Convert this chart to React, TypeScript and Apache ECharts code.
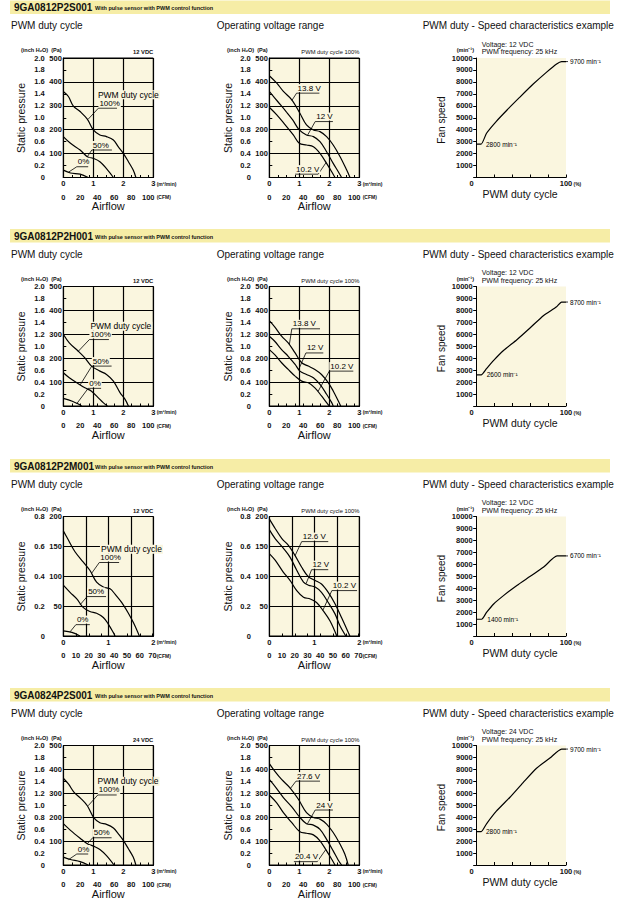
import React, { useEffect, useRef } from "react";
import * as echarts from "echarts";

// ---------- text ----------
const models = ["9GA0812P2S001", "9GA0812P2H001", "9GA0812P2M001", "9GA0824P2S001"];
const subtitle = "With pulse sensor with PWM control function";
const panelTitles = ["PWM duty cycle", "Operating voltage range", "PWM duty - Speed characteristics example"];
const ratedVoltages = ["12 VDC", "12 VDC", "12 VDC", "24 VDC"];
const dutyNames = ["100%", "50%", "0%"];
const voltageNames = [
  ["13.8 V", "12 V", "10.2 V"],
  ["13.8 V", "12 V", "10.2 V"],
  ["12.6 V", "12 V", "10.2 V"],
  ["27.6 V", "24 V", "20.4 V"],
];

// ---------- axis ranges ----------
const airflowMax = [3, 3, 2, 3]; // m³/min
const airflowStep = [1, 1, 0.5, 1];
const pressureMax = [500, 500, 200, 500]; // Pa
const pressureStep = [100, 100, 50, 100];
const inchMax = [2.0, 2.0, 0.8, 2.0]; // inch H2O
const cfmLabelStep = [20, 20, 10, 20];
const CFM_PER_M3 = 35.3147;
const speedMin = [2800, 2600, 1400, 2800];
const speedMax = [9700, 8700, 6700, 9700];

// ---------- curves: [airflow m³/min, static pressure Pa] ----------
const s001Duty100 = [[0, 360], [0.17, 339], [0.33, 300], [0.56, 276], [0.8, 244], [1.0, 199], [1.22, 178], [1.44, 171], [1.67, 157], [1.83, 129], [2.0, 101], [2.17, 66], [2.33, 31], [2.42, 0]];
const s001Duty50 = [[0, 171], [0.24, 143], [0.56, 115], [0.8, 87], [1.0, 80], [1.22, 66], [1.44, 37], [1.67, 0]];
const s001Duty0 = [[0, 31], [0.24, 19], [0.56, 14], [0.83, 0]];
const s001Volt138 = [[0, 426], [0.25, 395], [0.47, 360], [0.75, 325], [1.02, 269], [1.24, 220], [1.47, 199], [1.69, 192], [1.91, 171], [2.13, 136], [2.36, 87], [2.58, 31], [2.69, 0]];
const s001Volt12 = [[0, 360], [0.28, 318], [0.56, 276], [0.78, 241], [1.0, 199], [1.24, 178], [1.47, 171], [1.69, 150], [1.91, 108], [2.13, 59], [2.3, 24], [2.41, 0]];
const s001Volt102 = [[0, 294], [0.25, 262], [0.53, 220], [0.8, 178], [1.0, 143], [1.24, 136], [1.47, 129], [1.69, 101], [1.91, 59], [2.08, 24], [2.19, 0]];

const h001Duty100 = [[0, 300], [0.2, 264], [0.5, 229], [0.72, 201], [0.94, 167], [1.22, 146], [1.44, 132], [1.67, 104], [1.89, 56], [2.06, 28], [2.17, 0]];
const h001Duty50 = [[0, 139], [0.2, 118], [0.5, 93], [0.72, 76], [0.94, 62], [1.16, 35], [1.33, 14], [1.47, 0]];
const h001Duty0 = [[0, 32], [0.3, 20], [0.5, 8], [0.61, 0]];
const h001Volt138 = [[0, 357], [0.18, 331], [0.41, 292], [0.63, 264], [0.86, 222], [1.08, 181], [1.3, 167], [1.52, 153], [1.74, 132], [1.97, 97], [2.13, 63], [2.3, 21], [2.38, 0]];
const h001Volt12 = [[0, 292], [0.18, 271], [0.41, 236], [0.63, 208], [0.86, 174], [1.02, 146], [1.24, 132], [1.47, 118], [1.69, 90], [1.91, 49], [2.08, 14], [2.13, 0]];
const h001Volt102 = [[0, 236], [0.18, 215], [0.41, 181], [0.63, 153], [0.86, 125], [1.08, 104], [1.3, 97], [1.52, 76], [1.74, 42], [1.91, 14], [2.0, 0]];

const m001Duty100 = [[0, 176], [0.11, 161], [0.26, 141], [0.44, 124], [0.59, 110], [0.74, 90], [0.89, 82], [1.04, 79], [1.15, 70], [1.3, 56], [1.44, 39], [1.56, 22], [1.69, 0]];
const m001Duty50 = [[0, 85], [0.15, 73], [0.3, 62], [0.44, 48], [0.59, 41], [0.74, 38], [0.89, 31], [1.0, 20], [1.11, 6], [1.15, 0]];
const m001Duty0 = [[0, 8.5], [0.19, 6], [0.37, 0]];
const m001Volt126 = [[0, 196], [0.13, 180], [0.28, 163], [0.42, 152], [0.57, 135], [0.72, 115], [0.87, 99], [1.02, 93], [1.16, 87], [1.31, 73], [1.46, 54], [1.61, 30], [1.79, 0]];
const m001Volt12 = [[0, 178], [0.13, 163], [0.31, 147], [0.46, 132], [0.61, 110], [0.76, 90], [0.87, 85], [1.02, 82], [1.16, 73], [1.31, 56], [1.46, 37], [1.57, 17], [1.7, 0]];
const m001Volt102 = [[0, 138], [0.13, 127], [0.31, 107], [0.46, 93], [0.61, 76], [0.76, 65], [0.91, 62], [1.05, 56], [1.2, 42], [1.35, 25], [1.5, 0]];

const s024Duty100 = [[0, 363], [0.17, 339], [0.36, 304], [0.58, 279], [0.8, 248], [1.02, 197], [1.22, 177], [1.44, 170], [1.67, 155], [1.83, 131], [2.0, 103], [2.17, 68], [2.33, 33], [2.42, 0]];
const s024Duty50 = [[0, 173], [0.24, 145], [0.56, 112], [0.8, 89], [1.0, 79], [1.22, 65], [1.44, 39], [1.69, 0]];
const s024Duty0 = [[0, 33], [0.24, 23], [0.56, 14], [0.83, 0]];
const s024Volt276 = [[0, 424], [0.18, 393], [0.41, 358], [0.69, 323], [0.97, 275], [1.24, 219], [1.47, 199], [1.69, 192], [1.91, 171], [2.13, 136], [2.36, 87], [2.52, 45], [2.63, 0]];
const s024Volt24 = [[0, 358], [0.24, 321], [0.47, 282], [0.75, 243], [1.02, 199], [1.24, 173], [1.47, 167], [1.69, 149], [1.91, 107], [2.13, 59], [2.3, 20], [2.41, 0]];
const s024Volt204 = [[0, 293], [0.24, 261], [0.47, 219], [0.75, 177], [1.02, 139], [1.24, 133], [1.47, 126], [1.69, 101], [1.91, 59], [2.08, 24], [2.19, 0]];

// ---------- speed curves: [PWM duty %, speed min⁻¹] ----------
const s001Speed = [[0, 2800], [5, 2800], [11, 3700], [22, 4700], [34, 5650], [48, 6700], [63, 7800], [78, 8800], [89.5, 9500], [95, 9700], [100, 9700]];
const h001Speed = [[0, 2600], [5, 2600], [11, 3120], [19, 3820], [30, 4650], [45, 5550], [60, 6550], [75, 7580], [89.5, 8300], [95, 8700], [100, 8700]];
const m001Speed = [[0, 1400], [5.5, 1400], [11, 1970], [19, 2680], [30, 3380], [45, 4230], [60, 4990], [75, 5770], [90, 6700], [100, 6700]];
const s024Speed = [[0, 2800], [5, 2800], [11, 3450], [22, 4500], [37, 5650], [52, 6900], [67, 8100], [82, 8950], [95, 9700], [100, 9700]];

const dutyCurves = [
  [s001Duty100, s001Duty50, s001Duty0],
  [h001Duty100, h001Duty50, h001Duty0],
  [m001Duty100, m001Duty50, m001Duty0],
  [s024Duty100, s024Duty50, s024Duty0],
];
const voltageCurves = [
  [s001Volt138, s001Volt12, s001Volt102],
  [h001Volt138, h001Volt12, h001Volt102],
  [m001Volt126, m001Volt12, m001Volt102],
  [s024Volt276, s024Volt24, s024Volt204],
];
const speedCurves = [s001Speed, h001Speed, m001Speed, s024Speed];

// ---------- annotation anchors (data units): [curveX, curveY, underlineX0, underlineX1, underlineY, leaderAtEnd] ----------
const dutyNoteAnchors = [
  [[0.83, 244, 1.17, 1.79, 290, 0], [0.8, 87, 0.95, 1.62, 115, 0], [0.17, 22, 0.45, 0.83, 45, 0]],
  [[0.5, 229, 0.87, 1.52, 278, 0], [0.56, 88, 0.95, 1.61, 167, 0], [0.45, 10, 0.83, 1.26, 74, 0]],
  [[0.63, 105, 0.8, 1.24, 123, 0], [0.37, 52, 0.53, 0.95, 66, 0], [0.15, 7, 0.28, 0.59, 19, 0]],
  [[0.83, 248, 1.15, 1.78, 293, 0], [0.8, 89, 0.98, 1.61, 114, 0], [0.17, 22, 0.45, 0.83, 46, 0]],
];
const dutyLegendAnchors = [[1.12, 323], [0.87, 311], [0.815, 136], [1.11, 327]];
const voltageNoteAnchors = [
  [[0.75, 322, 0.91, 1.67, 353, 0], [1.28, 178, 1.53, 2.12, 234, 0], [1.89, 62, 0.86, 1.63, 14, 1]],
  [[0.67, 258, 0.75, 1.69, 323, 0], [0.97, 150, 1.22, 1.8, 222, 0], [1.63, 62, 2.0, 2.8, 146, 0]],
  [[0.57, 134, 0.72, 1.31, 158, 0], [0.82, 88, 0.94, 1.31, 111, 0], [1.19, 43, 1.39, 1.95, 76, 0]],
  [[0.69, 318, 0.89, 1.69, 351, 0], [1.27, 172, 1.53, 2.12, 230, 0], [1.88, 64, 0.82, 1.6, 14, 1]],
];
const speedMinLabelX = [10.4, 11.2, 11.9, 10.4];

// ---------- styles / layout ----------
const FONT = "'Liberation Sans', Arial, Helvetica, sans-serif";
const BG = "#FAF6DF";
const BAR = "#F6EDA6";
const INK = "#111111";
const COLS = [{ left: 63.3, w: 90 }, { left: 269.3, w: 90 }, { left: 476.7, w: 89.3 }];
const ROW_TOP = [0, 228.5, 458.5, 687.5];
const GRID_DY = 58;
const GRID_H = 119.5;

function buildOption() {
  const grid: any[] = [];
  const xAxis: any[] = [];
  const yAxis: any[] = [];
  const series: any[] = [];
  const graphic: any[] = [];

  const txt = (x: number, y: number, text: string, size: number, extra: any = {}, rot = 0) =>
    graphic.push({
      type: "text", x, y, rotation: rot, silent: true,
      style: { text, fontSize: size, fontFamily: FONT, fill: INK, align: "left", verticalAlign: "middle", ...extra },
    });

  const axisLbl = { color: INK, fontFamily: FONT, fontWeight: "bold", fontSize: 7.5 };
  const black = { color: "#000", width: 1 };

  const noteLabel = (xi: number, yi: number, x: number, y: number, text: string, size: number) =>
    series.push({
      type: "scatter", xAxisIndex: xi, yAxisIndex: yi, data: [[x, y]], symbolSize: 0.01, silent: true, clip: false, z: 6,
      itemStyle: { color: "#000", opacity: 1 },
      label: {
        show: true, formatter: text, position: [0, -1], align: "left", verticalAlign: "bottom", opacity: 1,
        fontSize: size, fontFamily: FONT, color: "#000", textBorderWidth: 0, backgroundColor: BG, padding: [0, 1, 0, 1],
      },
    });

  const leader = (xi: number, yi: number, pts: number[][]) =>
    series.push({
      type: "line", xAxisIndex: xi, yAxisIndex: yi, data: pts, symbol: "none", silent: true, clip: false, z: 5,
      lineStyle: { color: "#000", width: 0.8 },
    });

  for (let r = 0; r < 4; r++) {
    const R = ROW_TOP[r];
    graphic.push({ type: "rect", silent: true, z: -1, shape: { x: 10, y: R + 0.5, width: 600, height: 13.5 }, style: { fill: BAR } });
    txt(14, R + 7.5, models[r], 10, { fontWeight: "bold" });
    txt(95, R + 8, subtitle, 5.5, { fontWeight: "bold" });
    txt(11, R + 25.5, panelTitles[0], 10);
    txt(216.7, R + 25.5, panelTitles[1], 10);
    txt(422.7, R + 25.5, panelTitles[2], 10);

    // ---- pressure panels ----
    for (let c = 0; c < 2; c++) {
      const col = COLS[c];
      const gi = grid.length;
      grid.push({ left: col.left, top: R + GRID_DY, width: col.w, height: GRID_H, show: true, backgroundColor: BG, borderColor: "#000", borderWidth: 1 });
      const xi = xAxis.length;
      xAxis.push({
        type: "value", gridIndex: gi, min: 0, max: airflowMax[r], interval: airflowStep[r], position: "bottom",
        axisLine: { show: true, lineStyle: black }, axisTick: { show: false },
        axisLabel: { ...axisLbl, margin: 2, formatter: (v: number) => (Number.isInteger(v) ? String(v) : "") },
        splitLine: { show: true, lineStyle: { color: "#000", width: 1.2 } },
      });
      xAxis.push({
        type: "value", gridIndex: gi, min: 0, max: airflowMax[r] * CFM_PER_M3, interval: 10, position: "bottom", offset: 13.5,
        axisLine: { show: true, lineStyle: black },
        axisTick: { show: true, inside: true, length: 2.5, lineStyle: black },
        axisLabel: { ...axisLbl, margin: 2, formatter: (v: number) => (Math.abs(v % cfmLabelStep[r]) < 1e-6 ? String(Math.round(v)) : "") },
        splitLine: { show: false },
      });
      const yi = yAxis.length;
      yAxis.push({
        type: "value", gridIndex: gi, min: 0, max: pressureMax[r], interval: pressureStep[r], position: "left",
        axisLine: { show: false }, axisTick: { show: false },
        axisLabel: { ...axisLbl, margin: 1.5, formatter: (v: number) => (v === 0 ? "" : String(v)) },
        splitLine: { show: true, lineStyle: { color: "#000", width: 1.2 } },
      });
      yAxis.push({
        type: "value", gridIndex: gi, min: 0, max: inchMax[r], interval: 0.2, position: "left", offset: 15.5,
        axisLine: { show: true, lineStyle: black },
        axisTick: { show: true, inside: true, length: 3, lineStyle: black },
        axisLabel: { ...axisLbl, margin: 3, formatter: (v: number) => (v === 0 ? "0" : v.toFixed(1)) },
        splitLine: { show: false },
      });

      const curves = c === 0 ? dutyCurves[r] : voltageCurves[r];
      const names = c === 0 ? dutyNames : voltageNames[r];
      const notes = c === 0 ? dutyNoteAnchors[r] : voltageNoteAnchors[r];
      curves.forEach((d, k) => {
        series.push({
          type: "line", name: names[k], xAxisIndex: xi, yAxisIndex: yi, data: d, symbol: "none", smooth: 0.35,
          silent: true, z: 3, lineStyle: { color: "#000", width: 1.2 },
        });
        const [cx, cy, ux0, ux1, uy, atEnd] = notes[k];
        leader(xi, yi, atEnd ? [[ux0, uy], [ux1, uy], [cx, cy]] : [[cx, cy], [ux0, uy], [ux1, uy]]);
        noteLabel(xi, yi, ux0, uy, names[k], 8);
      });
      if (c === 0) {
        const [lx, ly] = dutyLegendAnchors[r];
        noteLabel(xi, yi, lx, ly, "PWM duty cycle", 8.5);
      }

      txt(col.left - 42.3, R + 50, "(inch H₂O)  (Pa)", 5.5, { fontWeight: "bold" });
      txt(col.left + col.w, R + 52, c === 0 ? ratedVoltages[r] : "PWM duty cycle 100%", 5.8, { align: "right", fontWeight: c === 0 ? "bold" : "normal" });
      txt(col.left - 42.3 + (c === 1 ? 1 : 0), R + 118, "Static pressure", 10.5, { align: "center" }, Math.PI / 2);
      txt(col.left + 45, R + 206, "Airflow", 11, { align: "center" });
      txt(col.left + 93.4, R + 183.8, "(m³/min)", 5, { fontWeight: "bold" });
      txt(col.left + 93.4, R + 197.3, "(CFM)", 5, { fontWeight: "bold" });
    }

    // ---- speed panel ----
    const col = COLS[2];
    const gi = grid.length;
    grid.push({ left: col.left, top: R + GRID_DY, width: col.w, height: GRID_H, show: true, backgroundColor: BG, borderWidth: 0 });
    const xi = xAxis.length;
    xAxis.push({
      type: "value", gridIndex: gi, min: 0, max: 100, interval: 20, position: "bottom",
      axisLine: { show: true, lineStyle: black },
      axisTick: { show: true, inside: true, length: 3, lineStyle: black },
      axisLabel: {
        ...axisLbl, margin: 2,
        formatter: (v: number) => (v === 0 ? "{z|0}" : v === 100 ? "100" : ""),
        rich: { z: { ...axisLbl, padding: [0, 10, 0, 0] } },
      },
      splitLine: { show: false },
    });
    const yi = yAxis.length;
    yAxis.push({
      type: "value", gridIndex: gi, min: 0, max: 10000, interval: 1000, position: "left",
      axisLine: { show: true, lineStyle: black },
      axisTick: { show: true, inside: false, length: 3.5, lineStyle: black },
      axisLabel: { ...axisLbl, margin: 4, formatter: (v: number) => (v === 0 ? "" : String(v)) },
      splitLine: { show: false },
    });
    series.push({
      type: "line", xAxisIndex: xi, yAxisIndex: yi, data: speedCurves[r], symbol: "none", smooth: 0.2,
      silent: true, z: 3, lineStyle: { color: "#000", width: 1.2 },
    });
    leader(xi, yi, [[100, speedMax[r]], [104, speedMax[r]]]);
    series.push({
      type: "scatter", xAxisIndex: xi, yAxisIndex: yi, symbolSize: 0.01, silent: true, clip: false, z: 6,
      itemStyle: { color: "#000", opacity: 1 },
      data: [
        { value: [speedMinLabelX[r], speedMin[r]], label: { formatter: `${speedMin[r]} min⁻¹` } },
        { value: [104.5, speedMax[r]], label: { formatter: `${speedMax[r]} min⁻¹` } },
      ],
      label: { show: true, position: [0, 0], align: "left", verticalAlign: "middle", fontSize: 6.5, fontFamily: FONT, color: "#000", textBorderWidth: 0 },
    });
    txt(col.left + 96.8, R + 184, "(%)", 5, { fontWeight: "bold" });
    txt(456.7, R + 50, "(min⁻¹)", 5.5, { fontWeight: "bold" });
    txt(481.7, R + 44, `Voltage: ${ratedVoltages[r]}`, 7);
    txt(481.7, R + 51.7, "PWM frequency: 25 kHz", 7);
    txt(441.7, R + 120, "Fan speed", 10, { align: "center" }, Math.PI / 2);
    txt(520, R + 194, "PWM duty cycle", 10.5, { align: "center" });
  }

  return { animation: false, backgroundColor: "#ffffff", grid, xAxis, yAxis, series, graphic };
}

export default function App() {
  const ref = useRef<HTMLDivElement>(null);
  useEffect(() => {
    if (!ref.current) return;
    const chart = echarts.init(ref.current, undefined, { renderer: "svg" });
    chart.setOption(buildOption() as any);
    return () => chart.dispose();
  }, []);
  return <div ref={ref} style={{ position: "absolute", left: 0, top: 0, width: 640, height: 901, background: "#fff" }} />;
}
